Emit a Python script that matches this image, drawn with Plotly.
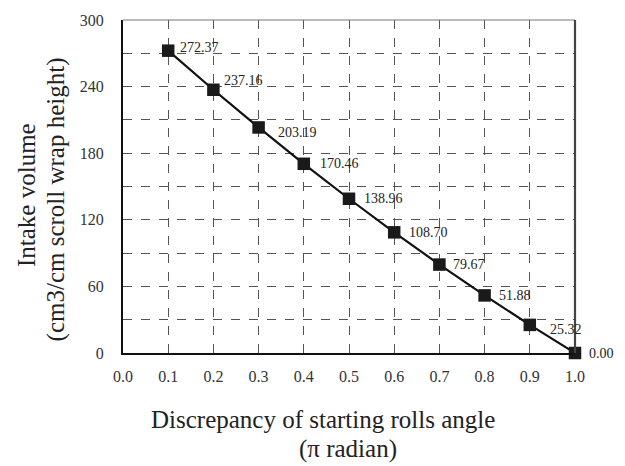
import plotly.graph_objects as go

# Intake volume vs. discrepancy of starting rolls angle
angle = [0.1, 0.2, 0.3, 0.4, 0.5, 0.6, 0.7, 0.8, 0.9, 1.0]
volume = [272.37, 237.16, 203.19, 170.46, 138.96, 108.70, 79.67, 51.88, 25.32, 0.00]
x_ticks = [0.0, 0.1, 0.2, 0.3, 0.4, 0.5, 0.6, 0.7, 0.8, 0.9, 1.0]
y_ticks = [0, 60, 120, 180, 240, 300]

# per-label nudges (pixels) so the value labels clear the line
label_dx = [10, 9, 17, 14, 13, 13, 12, 12, 18, 12]
label_dy = [3, 9, -5, 0, 0, 0, 0, 0, -5, 0]

FONT = "Liberation Serif, Times New Roman, serif"
TITLE_FONT = dict(family=FONT, size=25, color="#222222")

fig = go.Figure()
fig.add_trace(go.Scatter(
    x=angle, y=volume, mode="lines+markers",
    line=dict(color="#111111", width=2.2),
    marker=dict(symbol="square", size=12.5, color="#1a1a1a"),
    showlegend=False, cliponaxis=False,
))

for xv, yv, dx, dy in zip(angle, volume, label_dx, label_dy):
    fig.add_annotation(
        x=xv, y=yv, text=f"{yv:.2f}", showarrow=False,
        xanchor="left", yanchor="middle", xshift=dx, yshift=dy,
        font=dict(family=FONT, size=14, color="#222222"),
    )

# x-axis title (two lines)
fig.add_annotation(xref="paper", yref="paper", x=0.4425, y=-0.20,
                   text="Discrepancy of starting rolls angle", showarrow=False,
                   xanchor="center", yanchor="middle", font=TITLE_FONT)
fig.add_annotation(xref="paper", yref="paper", x=0.498, y=-0.287,
                   text="(\u03c0 radian)", showarrow=False,
                   xanchor="center", yanchor="middle", font=TITLE_FONT)

# y-axis title (two lines)
fig.add_annotation(xref="paper", yref="paper", x=-0.212, y=0.475,
                   text="Intake volume", textangle=-90, showarrow=False,
                   xanchor="center", yanchor="middle", font=TITLE_FONT)
fig.add_annotation(xref="paper", yref="paper", x=-0.148, y=0.4615,
                   text="(cm3/cm scroll wrap height)", textangle=-90, showarrow=False,
                   xanchor="center", yanchor="middle", font=TITLE_FONT)

# top and right frame
fig.add_shape(type="line", xref="paper", yref="paper", x0=0, x1=1, y0=1, y1=1,
              line=dict(color="#777777", width=1.2))
fig.add_shape(type="line", xref="paper", yref="paper", x0=1, x1=1, y0=0, y1=1,
              line=dict(color="#444444", width=2.2))

fig.update_layout(
    width=625, height=466,
    margin=dict(l=123, r=50, t=15, b=113),
    paper_bgcolor="white", plot_bgcolor="white",
    font=dict(family=FONT, size=16, color="#222222"),
    xaxis=dict(
        range=[0, 1], tickvals=x_ticks, ticktext=[f"{v:.1f}" for v in x_ticks],
        showgrid=True, gridcolor="#555555", griddash="dash", gridwidth=1,
        showline=True, linecolor="#111111", linewidth=2,
        ticks="", ticklabelstandoff=8, zeroline=False,
        tickfont=dict(family=FONT, size=16, color="#333333"),
    ),
    yaxis=dict(
        range=[0, 300], tickvals=y_ticks,
        showgrid=True, gridcolor="#555555", griddash="dash", gridwidth=1,
        minor=dict(dtick=30, showgrid=True, gridcolor="#555555", griddash="dash", gridwidth=1),
        showline=True, linecolor="#111111", linewidth=2,
        ticks="", ticklabelstandoff=14, zeroline=False,
        tickfont=dict(family=FONT, size=16, color="#333333"),
    ),
)

fig.write_html("out.html")
